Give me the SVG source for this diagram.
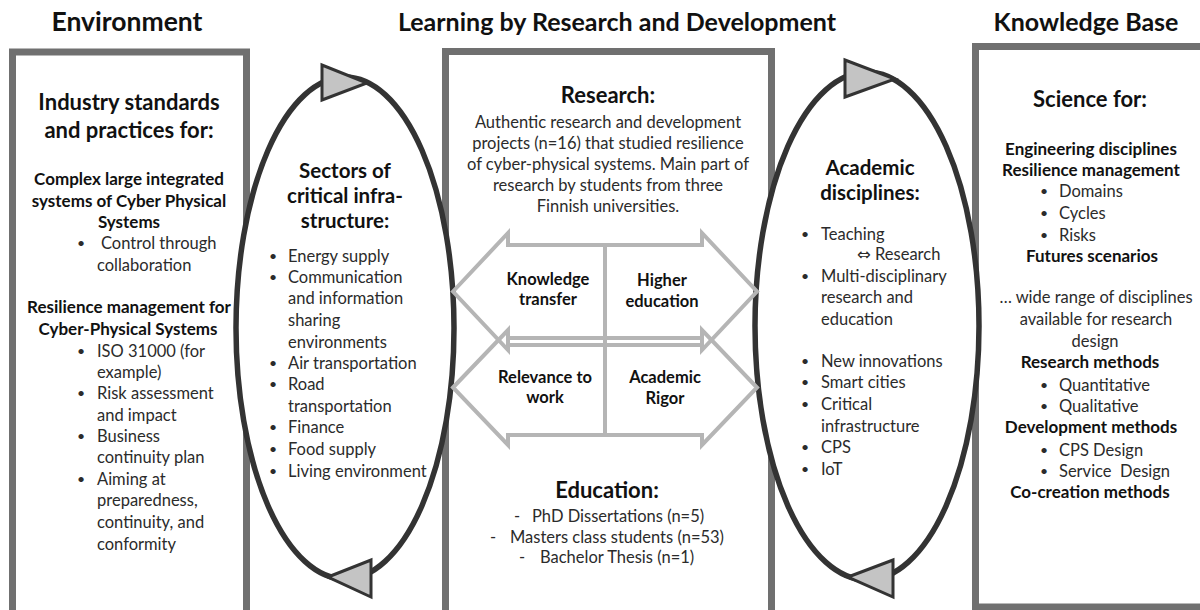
<svg xmlns="http://www.w3.org/2000/svg" width="1200" height="610" viewBox="0 0 1200 610">
<style>
text{font-family:Lato,"Open Sans","DejaVu Sans",sans-serif;}
.title{font-size:25px;font-weight:bold;fill:#111;text-anchor:middle;}
.h1{font-size:22px;font-weight:bold;fill:#111;text-anchor:middle;}
.h2{font-size:20.5px;font-weight:bold;fill:#111;text-anchor:middle;}
.sub{font-size:17px;font-weight:bold;fill:#111;text-anchor:middle;}
.lbl{font-size:16.5px;font-weight:bold;fill:#111;text-anchor:middle;}
.b{font-size:16.5px;fill:#2b2b2b;}
.bc{font-size:16.5px;fill:#2b2b2b;text-anchor:middle;}
.dot{font-size:14px;fill:#2b2b2b;}
.box{fill:#fff;stroke:#707070;stroke-width:7;}
.loop{fill:#fff;stroke:#333;stroke-width:5.5;}
.tri{fill:#c4c4c4;stroke:#333;stroke-width:3;stroke-linejoin:miter;}
.arr{fill:none;stroke:#b5b5b5;stroke-width:4;stroke-linejoin:miter;}
</style>
<rect width="1200" height="610" fill="#fff"/>

<g id="node-environment">
<text class="title" x="127" y="31" style="font-size:26.5px">Environment</text>
<rect class="box" x="12.5" y="52" width="234" height="600"/>
<text class="h1" x="129" y="110">Industry standards</text>
<text class="h1" x="129" y="138">and practices for:</text>
<text class="sub" x="129" y="185">Complex large integrated</text>
<text class="sub" x="129" y="207">systems of Cyber Physical</text>
<text class="sub" x="129" y="228">Systems</text>
<text class="dot" x="77" y="248">•</text>
<text class="b" x="101" y="249">Control through</text>
<text class="b" x="97" y="271">collaboration</text>
<text class="sub" x="129" y="313">Resilience management for</text>
<text class="sub" x="128" y="335">Cyber-Physical Systems</text>
<text class="dot" x="77" y="356">•</text>
<text class="b" x="97" y="357">ISO 31000 (for</text>
<text class="b" x="97" y="378">example)</text>
<text class="dot" x="77" y="398">•</text>
<text class="b" x="97" y="399">Risk assessment</text>
<text class="b" x="97" y="421">and impact</text>
<text class="dot" x="77" y="441">•</text>
<text class="b" x="97" y="442">Business</text>
<text class="b" x="97" y="463">continuity plan</text>
<text class="dot" x="77" y="484">•</text>
<text class="b" x="97" y="485">Aiming at</text>
<text class="b" x="97" y="506">preparedness,</text>
<text class="b" x="97" y="528">continuity, and</text>
<text class="b" x="97" y="550">conformity</text>
</g>

<g id="node-learning">
<text class="title" x="617" y="31">Learning by Research and Development</text>
<rect class="box" x="445.5" y="51.5" width="326" height="600"/>
<text class="h1" x="608" y="103">Research:</text>
<text class="bc" x="608" y="128">Authentic research and development</text>
<text class="bc" x="608" y="149">projects (n=16) that studied resilience</text>
<text class="bc" x="608" y="170">of cyber-physical systems. Main part of</text>
<text class="bc" x="608" y="191">research by students from three</text>
<text class="bc" x="608" y="212">Finnish universities.</text>
<text class="h1" x="607" y="498">Education:</text>
<text class="b" x="514" y="522">-</text>
<text class="b" x="532" y="522">PhD Dissertations (n=5)</text>
<text class="b" x="490" y="543">-</text>
<text class="b" x="510" y="543">Masters class students (n=53)</text>
<text class="b" x="519" y="563">-</text>
<text class="b" x="540" y="563">Bachelor Thesis (n=1)</text>
</g>

<g id="node-knowledge">
<text class="title" x="1086" y="31">Knowledge Base</text>
<rect class="box" x="975.5" y="46.5" width="300" height="560.5"/>
<text class="h1" x="1090" y="107">Science for:</text>
<text class="sub" x="1091" y="155">Engineering disciplines</text>
<text class="sub" x="1091" y="176">Resilience management</text>
<text class="dot" x="1040" y="196">•</text>
<text class="b" x="1059" y="197">Domains</text>
<text class="dot" x="1040" y="218">•</text>
<text class="b" x="1059" y="219">Cycles</text>
<text class="dot" x="1040" y="240">•</text>
<text class="b" x="1059" y="241">Risks</text>
<text class="sub" x="1092" y="262">Futures scenarios</text>
<text class="bc" x="1096" y="303">… wide range of disciplines</text>
<text class="bc" x="1096" y="325">available for research</text>
<text class="bc" x="1095" y="347">design</text>
<text class="sub" x="1090" y="368">Research methods</text>
<text class="dot" x="1040" y="390">•</text>
<text class="b" x="1059" y="391">Quantitative</text>
<text class="dot" x="1040" y="411">•</text>
<text class="b" x="1059" y="412">Qualitative</text>
<text class="sub" x="1091" y="433">Development methods</text>
<text class="dot" x="1040" y="455">•</text>
<text class="b" x="1059" y="456">CPS Design</text>
<text class="dot" x="1040" y="476">•</text>
<text class="b" x="1059" y="477" xml:space="preserve">Service  Design</text>
<text class="sub" x="1090" y="498">Co-creation methods</text>
</g>

<g id="node-sectors">
<ellipse class="loop" cx="345" cy="328" rx="109" ry="251"/>
<text class="h2" x="345" y="178">Sectors of</text>
<text class="h2" x="345" y="203">critical infra-</text>
<text class="h2" x="345" y="228">structure:</text>
<text class="dot" x="269" y="261">•</text>
<text class="b" x="288" y="262">Energy supply</text>
<text class="dot" x="269" y="282">•</text>
<text class="b" x="288" y="283">Communication</text>
<text class="b" x="288" y="304">and information</text>
<text class="b" x="288" y="326">sharing</text>
<text class="b" x="288" y="348">environments</text>
<text class="dot" x="269" y="368">•</text>
<text class="b" x="288" y="369">Air transportation</text>
<text class="dot" x="269" y="389">•</text>
<text class="b" x="288" y="390">Road</text>
<text class="b" x="288" y="412">transportation</text>
<text class="dot" x="269" y="432">•</text>
<text class="b" x="288" y="433">Finance</text>
<text class="dot" x="269" y="454">•</text>
<text class="b" x="288" y="455">Food supply</text>
<text class="dot" x="269" y="476">•</text>
<text class="b" x="288" y="477">Living environment</text>
</g>

<g id="node-academic">
<ellipse class="loop" cx="867" cy="326" rx="112" ry="254"/>
<text class="h2" x="870" y="175">Academic</text>
<text class="h2" x="870" y="200">disciplines:</text>
<text class="dot" x="801" y="239">•</text>
<text class="b" x="821" y="240">Teaching</text>
<text class="b" x="857" y="260">⇔ Research</text>
<text class="dot" x="801" y="281">•</text>
<text class="b" x="821" y="282">Multi-disciplinary</text>
<text class="b" x="821" y="303">research and</text>
<text class="b" x="821" y="325">education</text>
<text class="dot" x="801" y="366">•</text>
<text class="b" x="821" y="367">New innovations</text>
<text class="dot" x="801" y="387">•</text>
<text class="b" x="821" y="388">Smart cities</text>
<text class="dot" x="801" y="409">•</text>
<text class="b" x="821" y="410">Critical</text>
<text class="b" x="821" y="432">infrastructure</text>
<text class="dot" x="801" y="452">•</text>
<text class="b" x="821" y="453">CPS</text>
<text class="dot" x="801" y="474">•</text>
<text class="b" x="821" y="475">IoT</text>
</g>

<g id="connectors">
<polygon class="tri" points="322,65 322,100 367,83"/>
<polygon class="tri" points="328,577 371,560 371,597"/>
<polygon class="tri" points="845,60 845,97 895,79"/>
<polygon class="tri" points="848,577 893,560 893,597"/>
<polygon class="arr" points="453,291.5 508,233 508,245 702,245 702,233 757,291.5 702,350 702,338 508,338 508,350"/>
<polygon class="arr" points="453,387.5 508,330 508,345 702,345 702,330 757,387.5 702,445 702,435 508,435 508,445"/>
<line class="arr" x1="605" y1="245" x2="605" y2="435"/>
<text class="lbl" x="548" y="285">Knowledge</text>
<text class="lbl" x="548" y="305">transfer</text>
<text class="lbl" x="662" y="286">Higher</text>
<text class="lbl" x="662" y="307">education</text>
<text class="lbl" x="545" y="383">Relevance to</text>
<text class="lbl" x="545" y="403">work</text>
<text class="lbl" x="665" y="383">Academic</text>
<text class="lbl" x="665" y="404">Rigor</text>
</g>
</svg>
